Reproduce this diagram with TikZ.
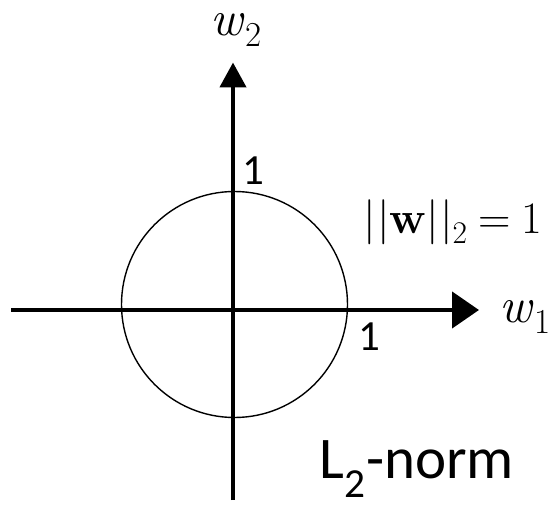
\documentclass[tikz,border=0pt]{standalone}
\usepackage{fontspec}
\setmainfont{Carlito}
\newfontfamily\lmfont{Latin Modern Roman}
\usetikzlibrary{arrows.meta}
\newcommand{\mysub}[2]{#1\raisebox{-0.22em}{\fontsize{0.7em}{0.7em}\selectfont #2}}
\tikzset{
  axis/.style={line width=4.5pt},
  unitcircle/.style={circle, draw, line width=1.4pt, inner sep=0pt, minimum size=226pt},
  mathlbl/.style={inner sep=0pt, font=\lmfont\fontsize{50}{54}\selectfont},
  numlbl/.style={inner sep=0pt, font=\fontsize{43}{46}\selectfont},
}
\begin{document}
\begin{tikzpicture}[x=1pt,y=-1pt]
\useasboundingbox (0,0) rectangle (556,505);
\coordinate (xl) at (11,310);
\coordinate (xr) at (479,310);
\coordinate (yb) at (233,500);
\coordinate (yt) at (233,62.5);
\draw[axis, -{Triangle[length=27pt,width=36pt]}] (xl) -- (xr);
\draw[axis, -{Triangle[length=25pt,width=26pt]}] (yb) -- (yt);
\node[unitcircle] (c) at (234.5,304.5) {};
\node[mathlbl] (w2) at (236,30) {\mysub{\textit{w}}{2}};
\node[mathlbl] (w1) at (525,317) {\mysub{\textit{w}}{1}};
\node[numlbl] (one1) at (253,171) {1};
\node[numlbl] (one2) at (369,337) {1};
\node[inner sep=0pt, font=\lmfont\fontsize{45}{48}\selectfont] (nrm) at (453,222) {\mysub{|\kern0.03em|\textbf{w}|\kern0.03em|}{2}\kern0.25em=\kern0.25em1};
\node[inner sep=0pt, font=\fontsize{59}{64}\selectfont] (l2) at (417,469) {L\textsubscript{2}-norm};
\end{tikzpicture}
\end{document}
